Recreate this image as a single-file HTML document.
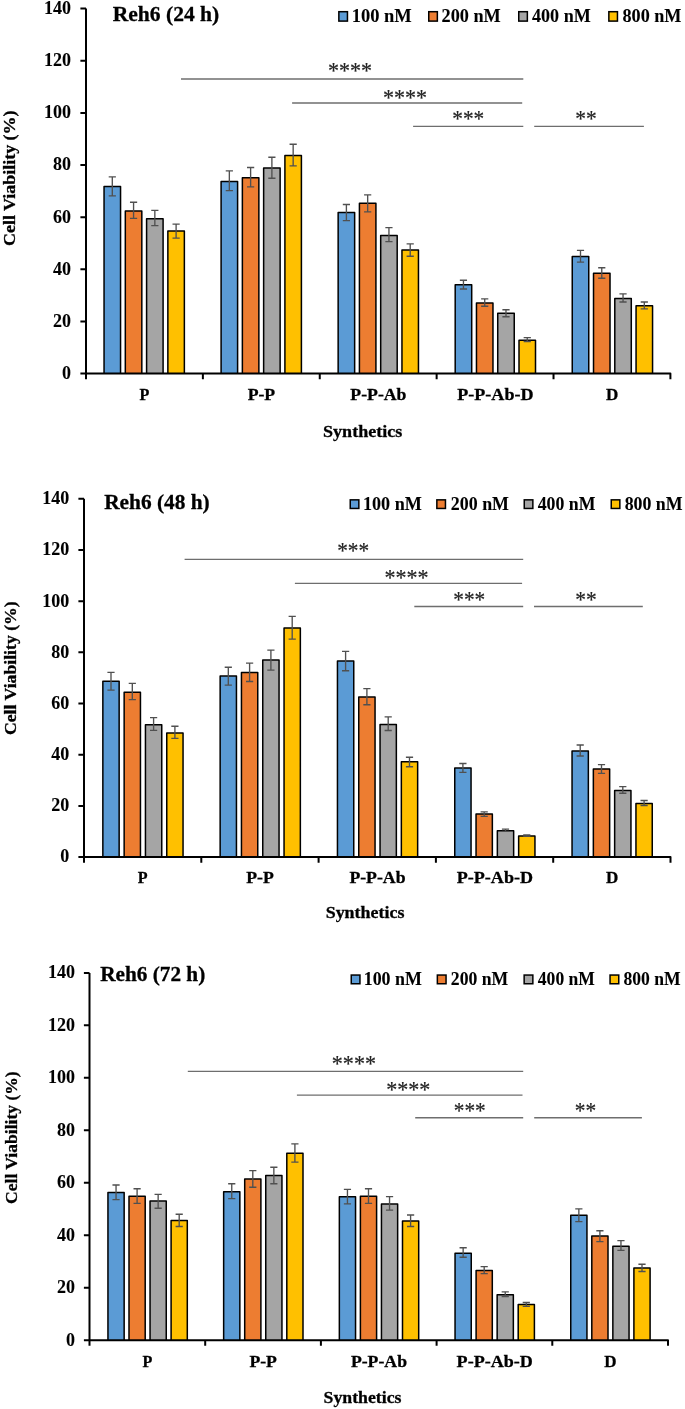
<!DOCTYPE html>
<html><head><meta charset="utf-8"><title>Reh6 cell viability</title>
<style>
html,body{margin:0;padding:0;background:#fff;}
body{width:685px;height:1409px;overflow:hidden;}
svg{display:block;will-change:transform;}
.b{font-family:'Liberation Serif', serif;font-weight:bold;fill:#000;stroke:#000;stroke-width:0.3px;}
.t{stroke-width:0.1px;}
.a{font-family:'Liberation Serif', serif;font-weight:normal;fill:#222;stroke:#222;stroke-width:0.2px;}
</style></head>
<body>
<svg width="685" height="1409" viewBox="0 0 685 1409">
<rect width="685" height="1409" fill="#fff"/>
<rect x="104.05" y="186.6" width="16.5" height="187" fill="#5B9BD5"/>
<rect x="125.32" y="210.9" width="16.5" height="162.7" fill="#ED7D31"/>
<rect x="146.59" y="218.8" width="16.5" height="154.8" fill="#A5A5A5"/>
<rect x="167.86" y="231" width="16.5" height="142.6" fill="#FFC000"/>
<rect x="221.1" y="181.6" width="16.5" height="192" fill="#5B9BD5"/>
<rect x="242.37" y="177.8" width="16.5" height="195.8" fill="#ED7D31"/>
<rect x="263.64" y="167.9" width="16.5" height="205.7" fill="#A5A5A5"/>
<rect x="284.91" y="155.5" width="16.5" height="218.1" fill="#FFC000"/>
<rect x="338.15" y="212.6" width="16.5" height="161" fill="#5B9BD5"/>
<rect x="359.42" y="203.3" width="16.5" height="170.3" fill="#ED7D31"/>
<rect x="380.69" y="235.4" width="16.5" height="138.2" fill="#A5A5A5"/>
<rect x="401.96" y="250" width="16.5" height="123.6" fill="#FFC000"/>
<rect x="455.2" y="284.8" width="16.5" height="88.8" fill="#5B9BD5"/>
<rect x="476.47" y="303" width="16.5" height="70.6" fill="#ED7D31"/>
<rect x="497.74" y="313.3" width="16.5" height="60.3" fill="#A5A5A5"/>
<rect x="519.01" y="340.3" width="16.5" height="33.3" fill="#FFC000"/>
<rect x="572.25" y="256.5" width="16.5" height="117.1" fill="#5B9BD5"/>
<rect x="593.52" y="273.3" width="16.5" height="100.3" fill="#ED7D31"/>
<rect x="614.79" y="298.5" width="16.5" height="75.1" fill="#A5A5A5"/>
<rect x="636.06" y="305.8" width="16.5" height="67.8" fill="#FFC000"/>
<path d="M104.05 373.6V186.6H120.55V373.6 M125.32 373.6V210.9H141.82V373.6 M146.59 373.6V218.8H163.09V373.6 M167.86 373.6V231H184.36V373.6 M221.1 373.6V181.6H237.6V373.6 M242.37 373.6V177.8H258.87V373.6 M263.64 373.6V167.9H280.14V373.6 M284.91 373.6V155.5H301.41V373.6 M338.15 373.6V212.6H354.65V373.6 M359.42 373.6V203.3H375.92V373.6 M380.69 373.6V235.4H397.19V373.6 M401.96 373.6V250H418.46V373.6 M455.2 373.6V284.8H471.7V373.6 M476.47 373.6V303H492.97V373.6 M497.74 373.6V313.3H514.24V373.6 M519.01 373.6V340.3H535.51V373.6 M572.25 373.6V256.5H588.75V373.6 M593.52 373.6V273.3H610.02V373.6 M614.79 373.6V298.5H631.29V373.6 M636.06 373.6V305.8H652.56V373.6" stroke="#000" stroke-width="1.5" fill="none" stroke-linejoin="round"/>
<path d="M112.3 176.8V195.9M108.7 176.8H115.9M108.7 195.9H115.9 M133.57 202.2V218.4M129.97 202.2H137.17M129.97 218.4H137.17 M154.84 210.3V225.6M151.24 210.3H158.44M151.24 225.6H158.44 M176.11 224.1V238.1M172.51 224.1H179.71M172.51 238.1H179.71 M229.35 170.9V190.6M225.75 170.9H232.95M225.75 190.6H232.95 M250.62 167.5V186.9M247.02 167.5H254.22M247.02 186.9H254.22 M271.89 157.2V178.2M268.29 157.2H275.49M268.29 178.2H275.49 M293.16 144.2V165.9M289.56 144.2H296.76M289.56 165.9H296.76 M346.4 204.5V220.6M342.8 204.5H350M342.8 220.6H350 M367.67 194.9V211.8M364.07 194.9H371.27M364.07 211.8H371.27 M388.94 227.6V241.6M385.34 227.6H392.54M385.34 241.6H392.54 M410.21 243.8V256.2M406.61 243.8H413.81M406.61 256.2H413.81 M463.45 280.2V289M459.85 280.2H467.05M459.85 289H467.05 M484.72 298.9V306.2M481.12 298.9H488.32M481.12 306.2H488.32 M505.99 309.7V316.7M502.39 309.7H509.59M502.39 316.7H509.59 M527.26 337.6V341.5M523.66 337.6H530.86M523.66 341.5H530.86 M580.5 250.4V262.1M576.9 250.4H584.1M576.9 262.1H584.1 M601.77 267.7V278.2M598.17 267.7H605.37M598.17 278.2H605.37 M623.04 293.9V302M619.44 293.9H626.64M619.44 302H626.64 M644.31 302V308.8M640.71 302H647.91M640.71 308.8H647.91" stroke="#505050" stroke-width="1.35" fill="none"/>
<path d="M86 8.6V379.2 M80.4 8.6H86 M80.4 60.74H86 M80.4 112.89H86 M80.4 165.03H86 M80.4 217.17H86 M80.4 269.31H86 M80.4 321.46H86 M80.4 373.6H86 M80.4 373.6H670.4V379.2 M202.88 373.6V379.2 M319.76 373.6V379.2 M436.64 373.6V379.2 M553.52 373.6V379.2" stroke="#000" stroke-width="2.0" fill="none" stroke-linejoin="round"/>
<text x="44.05" y="13.97" class="b t" font-size="18" textLength="27" lengthAdjust="spacingAndGlyphs">140</text>
<text x="44.05" y="66.12" class="b t" font-size="18" textLength="27" lengthAdjust="spacingAndGlyphs">120</text>
<text x="44.05" y="118.26" class="b t" font-size="18" textLength="27" lengthAdjust="spacingAndGlyphs">100</text>
<text x="53.05" y="170.4" class="b t" font-size="18" textLength="18" lengthAdjust="spacingAndGlyphs">80</text>
<text x="53.05" y="222.55" class="b t" font-size="18" textLength="18" lengthAdjust="spacingAndGlyphs">60</text>
<text x="53.05" y="274.69" class="b t" font-size="18" textLength="18" lengthAdjust="spacingAndGlyphs">40</text>
<text x="53.05" y="326.83" class="b t" font-size="18" textLength="18" lengthAdjust="spacingAndGlyphs">20</text>
<text x="62.05" y="378.98" class="b t" font-size="18" textLength="9" lengthAdjust="spacingAndGlyphs">0</text>
<text x="139.61" y="400.4" class="b" font-size="17.5" textLength="9.85" lengthAdjust="spacingAndGlyphs">P</text>
<text x="247.67" y="400.4" class="b" font-size="17.5" textLength="27.53" lengthAdjust="spacingAndGlyphs">P-P</text>
<text x="350.35" y="400.4" class="b" font-size="17.5" textLength="56.12" lengthAdjust="spacingAndGlyphs">P-P-Ab</text>
<text x="457.27" y="400.4" class="b" font-size="17.5" textLength="76.26" lengthAdjust="spacingAndGlyphs">P-P-Ab-D</text>
<text x="606.12" y="400.4" class="b" font-size="17.5" textLength="12.31" lengthAdjust="spacingAndGlyphs">D</text>
<text x="323.07" y="437.2" class="b" font-size="17.5" textLength="79.21" lengthAdjust="spacingAndGlyphs">Synthetics</text>
<g transform="rotate(-90)"><text x="-245.97" y="15.2" class="b" font-size="17.5" textLength="135.4" lengthAdjust="spacingAndGlyphs">Cell Viability (%)</text></g>
<text x="112.75" y="21" class="b" font-size="21.5" textLength="106.52" lengthAdjust="spacingAndGlyphs">Reh6 (24 h)</text>
<rect x="338.85" y="11.7" width="8.6" height="9.4" fill="#5B9BD5" stroke="#000" stroke-width="1.5"/>
<text x="351.76" y="21.7" class="b t" font-size="18" textLength="60.05" lengthAdjust="spacingAndGlyphs">100 nM</text>
<rect x="428.75" y="11.7" width="8.6" height="9.4" fill="#ED7D31" stroke="#000" stroke-width="1.5"/>
<text x="441.54" y="21.7" class="b t" font-size="18" textLength="59.27" lengthAdjust="spacingAndGlyphs">200 nM</text>
<rect x="518.75" y="11.7" width="8.6" height="9.4" fill="#A5A5A5" stroke="#000" stroke-width="1.5"/>
<text x="532.05" y="21.7" class="b t" font-size="18" textLength="58.75" lengthAdjust="spacingAndGlyphs">400 nM</text>
<rect x="608.85" y="11.7" width="8.6" height="9.4" fill="#FFC000" stroke="#000" stroke-width="1.5"/>
<text x="622.5" y="21.7" class="b t" font-size="18" textLength="59.01" lengthAdjust="spacingAndGlyphs">800 nM</text>
<path d="M181 79H523.3" stroke="#6e6e6e" stroke-width="1.4" fill="none"/>
<text x="328.05" y="77.6" class="a" font-size="24" textLength="44.1" lengthAdjust="spacingAndGlyphs">****</text>
<path d="M292.1 103H522.2" stroke="#6e6e6e" stroke-width="1.4" fill="none"/>
<text x="382.95" y="104.7" class="a" font-size="24" textLength="44.1" lengthAdjust="spacingAndGlyphs">****</text>
<path d="M413.1 126.4H523.3" stroke="#6e6e6e" stroke-width="1.4" fill="none"/>
<text x="452.34" y="125.6" class="a" font-size="24" textLength="31.92" lengthAdjust="spacingAndGlyphs">***</text>
<path d="M534.2 126.4H643.9" stroke="#6e6e6e" stroke-width="1.4" fill="none"/>
<text x="575.28" y="125.6" class="a" font-size="24" textLength="21.43" lengthAdjust="spacingAndGlyphs">**</text>
<rect x="102.85" y="681.3" width="16.3" height="175.8" fill="#5B9BD5"/>
<rect x="124.15" y="692.2" width="16.3" height="164.9" fill="#ED7D31"/>
<rect x="145.45" y="724.7" width="16.3" height="132.4" fill="#A5A5A5"/>
<rect x="166.75" y="733.1" width="16.3" height="124" fill="#FFC000"/>
<rect x="220.15" y="676.1" width="16.3" height="181" fill="#5B9BD5"/>
<rect x="241.45" y="672.5" width="16.3" height="184.6" fill="#ED7D31"/>
<rect x="262.75" y="660.1" width="16.3" height="197" fill="#A5A5A5"/>
<rect x="284.05" y="627.9" width="16.3" height="229.2" fill="#FFC000"/>
<rect x="337.45" y="661.1" width="16.3" height="196" fill="#5B9BD5"/>
<rect x="358.75" y="697.1" width="16.3" height="160" fill="#ED7D31"/>
<rect x="380.05" y="724.6" width="16.3" height="132.5" fill="#A5A5A5"/>
<rect x="401.35" y="761.8" width="16.3" height="95.3" fill="#FFC000"/>
<rect x="454.75" y="768.1" width="16.3" height="89" fill="#5B9BD5"/>
<rect x="476.05" y="814" width="16.3" height="43.1" fill="#ED7D31"/>
<rect x="497.35" y="830.8" width="16.3" height="26.3" fill="#A5A5A5"/>
<rect x="518.65" y="835.9" width="16.3" height="21.2" fill="#FFC000"/>
<rect x="572.05" y="751.1" width="16.3" height="106" fill="#5B9BD5"/>
<rect x="593.35" y="768.9" width="16.3" height="88.2" fill="#ED7D31"/>
<rect x="614.65" y="790.5" width="16.3" height="66.6" fill="#A5A5A5"/>
<rect x="635.95" y="803.5" width="16.3" height="53.6" fill="#FFC000"/>
<path d="M102.85 857.1V681.3H119.15V857.1 M124.15 857.1V692.2H140.45V857.1 M145.45 857.1V724.7H161.75V857.1 M166.75 857.1V733.1H183.05V857.1 M220.15 857.1V676.1H236.45V857.1 M241.45 857.1V672.5H257.75V857.1 M262.75 857.1V660.1H279.05V857.1 M284.05 857.1V627.9H300.35V857.1 M337.45 857.1V661.1H353.75V857.1 M358.75 857.1V697.1H375.05V857.1 M380.05 857.1V724.6H396.35V857.1 M401.35 857.1V761.8H417.65V857.1 M454.75 857.1V768.1H471.05V857.1 M476.05 857.1V814H492.35V857.1 M497.35 857.1V830.8H513.65V857.1 M518.65 857.1V835.9H534.95V857.1 M572.05 857.1V751.1H588.35V857.1 M593.35 857.1V768.9H609.65V857.1 M614.65 857.1V790.5H630.95V857.1 M635.95 857.1V803.5H652.25V857.1" stroke="#000" stroke-width="1.5" fill="none" stroke-linejoin="round"/>
<path d="M111 672.3V690.1M107.4 672.3H114.6M107.4 690.1H114.6 M132.3 683.3V699.6M128.7 683.3H135.9M128.7 699.6H135.9 M153.6 717.6V730.3M150 717.6H157.2M150 730.3H157.2 M174.9 726.2V738.3M171.3 726.2H178.5M171.3 738.3H178.5 M228.3 667.2V685.1M224.7 667.2H231.9M224.7 685.1H231.9 M249.6 663.1V681.5M246 663.1H253.2M246 681.5H253.2 M270.9 650.1V670.1M267.3 650.1H274.5M267.3 670.1H274.5 M292.2 616.4V639.1M288.6 616.4H295.8M288.6 639.1H295.8 M345.6 651.4V670.7M342 651.4H349.2M342 670.7H349.2 M366.9 688.6V704.7M363.3 688.6H370.5M363.3 704.7H370.5 M388.2 716.9V730.5M384.6 716.9H391.8M384.6 730.5H391.8 M409.5 757.2V766.7M405.9 757.2H413.1M405.9 766.7H413.1 M462.9 763.5V772.3M459.3 763.5H466.5M459.3 772.3H466.5 M484.2 811.9V816.4M480.6 811.9H487.8M480.6 816.4H487.8 M505.5 829.1V831.3M501.9 829.1H509.1M501.9 831.3H509.1 M526.8 834.9V836.3M523.2 834.9H530.4M523.2 836.3H530.4 M580.2 745V756M576.6 745H583.8M576.6 756H583.8 M601.5 764.6V773.4M597.9 764.6H605.1M597.9 773.4H605.1 M622.8 786.6V793.2M619.2 786.6H626.4M619.2 793.2H626.4 M644.1 800.5V805.5M640.5 800.5H647.7M640.5 805.5H647.7" stroke="#505050" stroke-width="1.35" fill="none"/>
<path d="M84 498.8V862.7 M78.4 498.8H84 M78.4 549.99H84 M78.4 601.17H84 M78.4 652.36H84 M78.4 703.54H84 M78.4 754.73H84 M78.4 805.91H84 M78.4 857.1H84 M78.4 857.1H670.5V862.7 M201.3 857.1V862.7 M318.6 857.1V862.7 M435.9 857.1V862.7 M553.2 857.1V862.7" stroke="#000" stroke-width="2.0" fill="none" stroke-linejoin="round"/>
<text x="42.35" y="504.18" class="b t" font-size="18" textLength="27" lengthAdjust="spacingAndGlyphs">140</text>
<text x="42.35" y="555.36" class="b t" font-size="18" textLength="27" lengthAdjust="spacingAndGlyphs">120</text>
<text x="42.35" y="606.55" class="b t" font-size="18" textLength="27" lengthAdjust="spacingAndGlyphs">100</text>
<text x="51.35" y="657.73" class="b t" font-size="18" textLength="18" lengthAdjust="spacingAndGlyphs">80</text>
<text x="51.35" y="708.92" class="b t" font-size="18" textLength="18" lengthAdjust="spacingAndGlyphs">60</text>
<text x="51.35" y="760.1" class="b t" font-size="18" textLength="18" lengthAdjust="spacingAndGlyphs">40</text>
<text x="51.35" y="811.29" class="b t" font-size="18" textLength="18" lengthAdjust="spacingAndGlyphs">20</text>
<text x="60.35" y="862.48" class="b t" font-size="18" textLength="9" lengthAdjust="spacingAndGlyphs">0</text>
<text x="137.82" y="883.1" class="b" font-size="17.5" textLength="9.85" lengthAdjust="spacingAndGlyphs">P</text>
<text x="246.3" y="883.1" class="b" font-size="17.5" textLength="27.53" lengthAdjust="spacingAndGlyphs">P-P</text>
<text x="349.4" y="883.1" class="b" font-size="17.5" textLength="56.12" lengthAdjust="spacingAndGlyphs">P-P-Ab</text>
<text x="456.74" y="883.1" class="b" font-size="17.5" textLength="76.26" lengthAdjust="spacingAndGlyphs">P-P-Ab-D</text>
<text x="606.01" y="883.1" class="b" font-size="17.5" textLength="12.31" lengthAdjust="spacingAndGlyphs">D</text>
<text x="325.68" y="918.2" class="b" font-size="17.5" textLength="78.7" lengthAdjust="spacingAndGlyphs">Synthetics</text>
<g transform="rotate(-90)"><text x="-735.06" y="15.5" class="b" font-size="17.5" textLength="133.69" lengthAdjust="spacingAndGlyphs">Cell Viability (%)</text></g>
<text x="104.15" y="508.9" class="b" font-size="21.5" textLength="105.5" lengthAdjust="spacingAndGlyphs">Reh6 (48 h)</text>
<rect x="350.25" y="499.85" width="8.6" height="8.6" fill="#5B9BD5" stroke="#000" stroke-width="1.5"/>
<text x="362.99" y="509.5" class="b t" font-size="18" textLength="58.91" lengthAdjust="spacingAndGlyphs">100 nM</text>
<rect x="436.85" y="499.85" width="8.6" height="8.6" fill="#ED7D31" stroke="#000" stroke-width="1.5"/>
<text x="450.85" y="509.5" class="b t" font-size="18" textLength="58.14" lengthAdjust="spacingAndGlyphs">200 nM</text>
<rect x="524.25" y="499.85" width="8.6" height="8.6" fill="#A5A5A5" stroke="#000" stroke-width="1.5"/>
<text x="537.75" y="509.5" class="b t" font-size="18" textLength="57.64" lengthAdjust="spacingAndGlyphs">400 nM</text>
<rect x="611.25" y="499.85" width="8.6" height="8.6" fill="#FFC000" stroke="#000" stroke-width="1.5"/>
<text x="624.71" y="509.5" class="b t" font-size="18" textLength="57.89" lengthAdjust="spacingAndGlyphs">800 nM</text>
<path d="M184.6 559.4H523.2" stroke="#6e6e6e" stroke-width="1.4" fill="none"/>
<text x="337.14" y="558.1" class="a" font-size="24" textLength="31.92" lengthAdjust="spacingAndGlyphs">***</text>
<path d="M294.9 583.4H522.1" stroke="#6e6e6e" stroke-width="1.4" fill="none"/>
<text x="384.45" y="585.4" class="a" font-size="24" textLength="44.1" lengthAdjust="spacingAndGlyphs">****</text>
<path d="M414.3 606.5H523.2" stroke="#6e6e6e" stroke-width="1.4" fill="none"/>
<text x="453.24" y="606.6" class="a" font-size="24" textLength="31.92" lengthAdjust="spacingAndGlyphs">***</text>
<path d="M534 606.5H642.8" stroke="#6e6e6e" stroke-width="1.4" fill="none"/>
<text x="575.28" y="606.6" class="a" font-size="24" textLength="21.43" lengthAdjust="spacingAndGlyphs">**</text>
<rect x="107.95" y="1192.5" width="16.2" height="147.7" fill="#5B9BD5"/>
<rect x="129" y="1196.2" width="16.2" height="144" fill="#ED7D31"/>
<rect x="150.05" y="1201.1" width="16.2" height="139.1" fill="#A5A5A5"/>
<rect x="171.1" y="1220.6" width="16.2" height="119.6" fill="#FFC000"/>
<rect x="223.65" y="1191.8" width="16.2" height="148.4" fill="#5B9BD5"/>
<rect x="244.7" y="1179.1" width="16.2" height="161.1" fill="#ED7D31"/>
<rect x="265.75" y="1175.5" width="16.2" height="164.7" fill="#A5A5A5"/>
<rect x="286.8" y="1153.3" width="16.2" height="186.9" fill="#FFC000"/>
<rect x="339.35" y="1196.8" width="16.2" height="143.4" fill="#5B9BD5"/>
<rect x="360.4" y="1196.2" width="16.2" height="144" fill="#ED7D31"/>
<rect x="381.45" y="1204.1" width="16.2" height="136.1" fill="#A5A5A5"/>
<rect x="402.5" y="1221" width="16.2" height="119.2" fill="#FFC000"/>
<rect x="455.05" y="1253.3" width="16.2" height="86.9" fill="#5B9BD5"/>
<rect x="476.1" y="1270.4" width="16.2" height="69.8" fill="#ED7D31"/>
<rect x="497.15" y="1294.7" width="16.2" height="45.5" fill="#A5A5A5"/>
<rect x="518.2" y="1304.4" width="16.2" height="35.8" fill="#FFC000"/>
<rect x="570.75" y="1215.2" width="16.2" height="125" fill="#5B9BD5"/>
<rect x="591.8" y="1236" width="16.2" height="104.2" fill="#ED7D31"/>
<rect x="612.85" y="1246.2" width="16.2" height="94" fill="#A5A5A5"/>
<rect x="633.9" y="1268.1" width="16.2" height="72.1" fill="#FFC000"/>
<path d="M107.95 1340.2V1192.5H124.15V1340.2 M129 1340.2V1196.2H145.2V1340.2 M150.05 1340.2V1201.1H166.25V1340.2 M171.1 1340.2V1220.6H187.3V1340.2 M223.65 1340.2V1191.8H239.85V1340.2 M244.7 1340.2V1179.1H260.9V1340.2 M265.75 1340.2V1175.5H281.95V1340.2 M286.8 1340.2V1153.3H303V1340.2 M339.35 1340.2V1196.8H355.55V1340.2 M360.4 1340.2V1196.2H376.6V1340.2 M381.45 1340.2V1204.1H397.65V1340.2 M402.5 1340.2V1221H418.7V1340.2 M455.05 1340.2V1253.3H471.25V1340.2 M476.1 1340.2V1270.4H492.3V1340.2 M497.15 1340.2V1294.7H513.35V1340.2 M518.2 1340.2V1304.4H534.4V1340.2 M570.75 1340.2V1215.2H586.95V1340.2 M591.8 1340.2V1236H608V1340.2 M612.85 1340.2V1246.2H629.05V1340.2 M633.9 1340.2V1268.1H650.1V1340.2" stroke="#000" stroke-width="1.5" fill="none" stroke-linejoin="round"/>
<path d="M116.05 1185V1199.6M112.45 1185H119.65M112.45 1199.6H119.65 M137.1 1188.7V1203.3M133.5 1188.7H140.7M133.5 1203.3H140.7 M158.15 1194.4V1208.2M154.55 1194.4H161.75M154.55 1208.2H161.75 M179.2 1214.2V1226.5M175.6 1214.2H182.8M175.6 1226.5H182.8 M231.75 1183.7V1198.6M228.15 1183.7H235.35M228.15 1198.6H235.35 M252.8 1170.6V1187.2M249.2 1170.6H256.4M249.2 1187.2H256.4 M273.85 1167.2V1183.7M270.25 1167.2H277.45M270.25 1183.7H277.45 M294.9 1143.9V1162.1M291.3 1143.9H298.5M291.3 1162.1H298.5 M347.45 1189.3V1203.9M343.85 1189.3H351.05M343.85 1203.9H351.05 M368.5 1188.7V1203.3M364.9 1188.7H372.1M364.9 1203.3H372.1 M389.55 1196.6V1210.1M385.95 1196.6H393.15M385.95 1210.1H393.15 M410.6 1215V1226.5M407 1215H414.2M407 1226.5H414.2 M463.15 1247.7V1257.2M459.55 1247.7H466.75M459.55 1257.2H466.75 M484.2 1266.6V1273.6M480.6 1266.6H487.8M480.6 1273.6H487.8 M505.25 1291.8V1296.5M501.65 1291.8H508.85M501.65 1296.5H508.85 M526.3 1302.5V1306.4M522.7 1302.5H529.9M522.7 1306.4H529.9 M578.85 1208.8V1221.6M575.25 1208.8H582.45M575.25 1221.6H582.45 M599.9 1230.7V1241.6M596.3 1230.7H603.5M596.3 1241.6H603.5 M620.95 1240.6V1250.4M617.35 1240.6H624.55M617.35 1250.4H624.55 M642 1264.2V1271.5M638.4 1264.2H645.6M638.4 1271.5H645.6" stroke="#505050" stroke-width="1.35" fill="none"/>
<path d="M89.5 972.9V1345.8 M83.9 972.9H89.5 M83.9 1025.37H89.5 M83.9 1077.84H89.5 M83.9 1130.31H89.5 M83.9 1182.79H89.5 M83.9 1235.26H89.5 M83.9 1287.73H89.5 M83.9 1340.2H89.5 M83.9 1340.2H668V1345.8 M205.2 1340.2V1345.8 M320.9 1340.2V1345.8 M436.6 1340.2V1345.8 M552.3 1340.2V1345.8" stroke="#000" stroke-width="2.0" fill="none" stroke-linejoin="round"/>
<text x="48.05" y="978.27" class="b t" font-size="18" textLength="27" lengthAdjust="spacingAndGlyphs">140</text>
<text x="48.05" y="1030.75" class="b t" font-size="18" textLength="27" lengthAdjust="spacingAndGlyphs">120</text>
<text x="48.05" y="1083.22" class="b t" font-size="18" textLength="27" lengthAdjust="spacingAndGlyphs">100</text>
<text x="57.05" y="1135.69" class="b t" font-size="18" textLength="18" lengthAdjust="spacingAndGlyphs">80</text>
<text x="57.05" y="1188.16" class="b t" font-size="18" textLength="18" lengthAdjust="spacingAndGlyphs">60</text>
<text x="57.05" y="1240.63" class="b t" font-size="18" textLength="18" lengthAdjust="spacingAndGlyphs">40</text>
<text x="57.05" y="1293.1" class="b t" font-size="18" textLength="18" lengthAdjust="spacingAndGlyphs">20</text>
<text x="66.05" y="1345.58" class="b t" font-size="18" textLength="9" lengthAdjust="spacingAndGlyphs">0</text>
<text x="142.52" y="1367.2" class="b" font-size="17.5" textLength="9.85" lengthAdjust="spacingAndGlyphs">P</text>
<text x="249.4" y="1367.2" class="b" font-size="17.5" textLength="27.53" lengthAdjust="spacingAndGlyphs">P-P</text>
<text x="350.9" y="1367.2" class="b" font-size="17.5" textLength="56.12" lengthAdjust="spacingAndGlyphs">P-P-Ab</text>
<text x="456.64" y="1367.2" class="b" font-size="17.5" textLength="76.26" lengthAdjust="spacingAndGlyphs">P-P-Ab-D</text>
<text x="604.31" y="1367.2" class="b" font-size="17.5" textLength="12.31" lengthAdjust="spacingAndGlyphs">D</text>
<text x="323.59" y="1402.7" class="b" font-size="17.5" textLength="77.88" lengthAdjust="spacingAndGlyphs">Synthetics</text>
<g transform="rotate(-90)"><text x="-1203.95" y="17.4" class="b" font-size="17.5" textLength="132.57" lengthAdjust="spacingAndGlyphs">Cell Viability (%)</text></g>
<text x="100.15" y="981.3" class="b" font-size="21.5" textLength="105.1" lengthAdjust="spacingAndGlyphs">Reh6 (72 h)</text>
<rect x="351.25" y="975.05" width="8.7" height="8.7" fill="#5B9BD5" stroke="#000" stroke-width="1.5"/>
<text x="363.71" y="984.5" class="b t" font-size="18" textLength="58.19" lengthAdjust="spacingAndGlyphs">100 nM</text>
<rect x="437.35" y="975.05" width="8.7" height="8.7" fill="#ED7D31" stroke="#000" stroke-width="1.5"/>
<text x="450.86" y="984.5" class="b t" font-size="18" textLength="57.43" lengthAdjust="spacingAndGlyphs">200 nM</text>
<rect x="524.15" y="975.05" width="8.7" height="8.7" fill="#A5A5A5" stroke="#000" stroke-width="1.5"/>
<text x="537.86" y="984.5" class="b t" font-size="18" textLength="56.93" lengthAdjust="spacingAndGlyphs">400 nM</text>
<rect x="610.05" y="975.05" width="8.7" height="8.7" fill="#FFC000" stroke="#000" stroke-width="1.5"/>
<text x="623.51" y="984.5" class="b t" font-size="18" textLength="57.18" lengthAdjust="spacingAndGlyphs">800 nM</text>
<path d="M187.8 1071.4H523.2" stroke="#6e6e6e" stroke-width="1.4" fill="none"/>
<text x="331.85" y="1070.5" class="a" font-size="24" textLength="44.1" lengthAdjust="spacingAndGlyphs">****</text>
<path d="M296.9 1095.1H522.5" stroke="#6e6e6e" stroke-width="1.4" fill="none"/>
<text x="386.15" y="1097.1" class="a" font-size="24" textLength="44.1" lengthAdjust="spacingAndGlyphs">****</text>
<path d="M415.2 1117.7H523.2" stroke="#6e6e6e" stroke-width="1.4" fill="none"/>
<text x="453.84" y="1118" class="a" font-size="24" textLength="31.92" lengthAdjust="spacingAndGlyphs">***</text>
<path d="M534.2 1117.7H641.9" stroke="#6e6e6e" stroke-width="1.4" fill="none"/>
<text x="574.78" y="1118" class="a" font-size="24" textLength="21.43" lengthAdjust="spacingAndGlyphs">**</text>
</svg>
</body></html>
